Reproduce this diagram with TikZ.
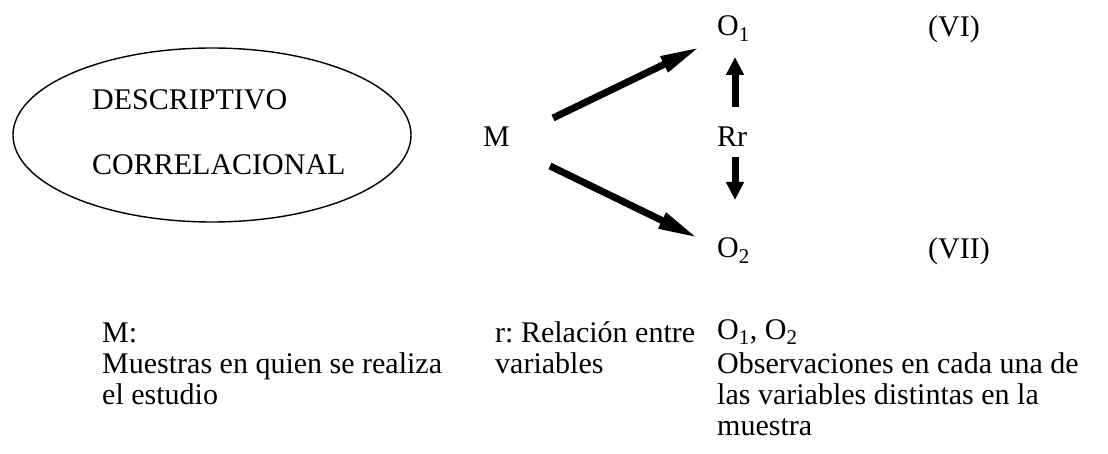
\documentclass[tikz,border=0pt]{standalone}
\usepackage{fontspec}
\setmainfont{Liberation Serif}
\usetikzlibrary{arrows.meta,shapes.geometric}
\begin{document}
\frenchspacing
\begin{tikzpicture}[x=1pt,y=-1pt,
  lbl/.style={anchor=base west, inner sep=0pt, font=\fontsize{30}{34}\selectfont},
  note/.style={anchor=base west, inner sep=0pt, font=\fontsize{30}{31}\selectfont\frenchspacing, align=left},
  fat/.style={line width=7pt, -{Triangle[length=40pt,width=16pt]}},
  vfat/.style={line width=7pt, -{Triangle[length=18pt,width=17pt]}}]
\useasboundingbox (0,0) rectangle (1108,454);
% ellipse
\node[draw, ellipse, line width=1.4pt, minimum width=398pt, minimum height=174pt, inner sep=0pt] (ell) at (212,135) {};
\node[lbl] (desc) at (92,110) {DESCRIPTIVO};
\node[lbl] (corr) at (92,175) {CORRELACIONAL};
% design
\node[lbl] (M) at (483,147) {M};
\node[lbl] (O1) at (717,36) {O\textsubscript{1}};
\node[lbl] (Rr) at (717,147) {Rr};
\node[lbl] (O2) at (717,258) {O\textsubscript{2}};
\node[lbl] (VI) at (928,37) {(VI)};
\node[lbl] (VII) at (928,259) {(VII)};
\coordinate (a1s) at (553,118);
\coordinate (a1e) at (700,47);
\coordinate (a2s) at (550,166);
\coordinate (a2e) at (698,238);
\coordinate (u1) at (735,107);
\coordinate (u2) at (735,57);
\coordinate (d1) at (735,157);
\coordinate (d2) at (735,200);
\draw[fat] (a1s) -- (a1e);
\draw[fat] (a2s) -- (a2e);
\draw[vfat] (u1) -- (u2);
\draw[vfat] (d1) -- (d2);
% legend
\node[note] (nM) at (102,404) {M:\\Muestras en quien se realiza\\el estudio};
\node[note] (nr) at (495,373) {r: Relación entre\\variables};
\node[note] (nO) at (717,435) {O\textsubscript{1}, O\textsubscript{2}\\[3pt]Observaciones en cada una de\\las variables distintas en la\\muestra};
\end{tikzpicture}
\end{document}
